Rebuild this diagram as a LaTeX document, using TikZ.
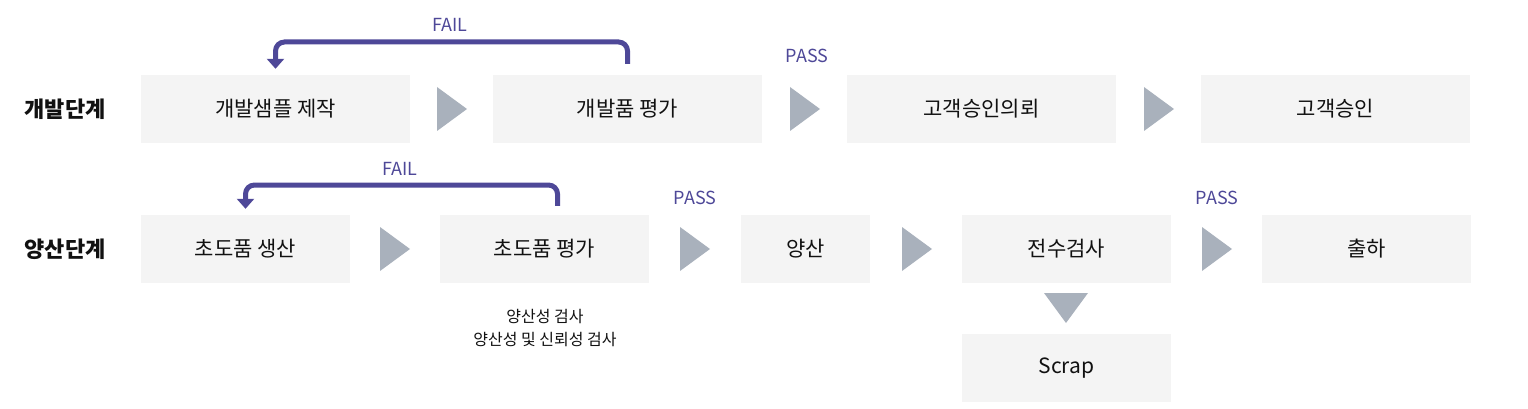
\documentclass[tikz,border=0pt]{standalone}
\usepackage{fontspec}
\setmainfont{Noto Sans CJK KR}
\usetikzlibrary{arrows.meta}
\definecolor{boxfill}{HTML}{F4F4F4}
\definecolor{trifill}{HTML}{A9B1BC}
\definecolor{purp}{HTML}{4E4898}
\definecolor{txt}{HTML}{111111}
\tikzset{
  stepbox/.style={fill=boxfill, inner sep=0pt, minimum height=68pt, font=\fontsize{21}{24}\selectfont, text=txt},
  widebox/.style={stepbox, minimum width=269pt},
  midbox/.style={stepbox, minimum width=209pt},
  smallbox/.style={stepbox, minimum width=129pt},
  stagelabel/.style={font=\fontsize{22}{24}\selectfont\bfseries, text=txt},
  passlabel/.style={font=\fontsize{18}{20}\selectfont, text=purp},
  subnote/.style={font=\fontsize{16}{18}\selectfont, text=txt},
  failarrow/.style={draw=purp, line width=5pt, rounded corners=9pt, -{Triangle[width=17pt,length=10pt]}, shorten >=6pt},
}
\newcommand{\rtri}[2]{\fill[trifill] (#1,#2-22) -- (#1+30,#2) -- (#1,#2+22) -- cycle;}
\begin{document}
\begin{tikzpicture}[x=1pt,y=-1pt]
\useasboundingbox (0,0) rectangle (1528,409);
% row 1
\node[stagelabel] (l1) at (65,109) {개발단계};
\node[widebox] (b1) at (275.5,109) {개발샘플 제작};
\node[widebox] (b2) at (627.5,109) {개발품 평가};
\node[widebox] (b3) at (981.5,109) {고객승인의뢰};
\node[widebox] (b4) at (1335.5,109) {고객승인};
\rtri{437}{109}
\rtri{790}{109}
\rtri{1144}{109}
\draw[failarrow] ([yshift=11pt]b2.north) -- (b2.north |- 0,42) -| (b1.north);
\node[passlabel] (f1) at (450,25) {FAIL};
\node[passlabel] (p1) at (807,56) {PASS};
% row 2
\node[stagelabel] (l2) at (65,249) {양산단계};
\node[midbox] (c1) at (245.5,249) {초도품 생산};
\node[midbox] (c2) at (544.5,249) {초도품 평가};
\node[smallbox] (c3) at (805.5,249) {양산};
\node[midbox] (c4) at (1066.5,249) {전수검사};
\node[midbox] (c5) at (1366.5,249) {출하};
\node[midbox] (c6) at (1066.5,368) {Scrap};
\rtri{380}{249}
\rtri{680}{249}
\rtri{902}{249}
\rtri{1202}{249}
\fill[trifill] (1044,293) -- (1088,293) -- (1066,323) -- cycle;
\draw[failarrow] ([xshift=13pt,yshift=9pt]c2.north) -- ([xshift=13pt]c2.north |- 0,185) -| (c1.north);
\node[passlabel] (f2) at (400,169) {FAIL};
\node[passlabel] (p2) at (695,198) {PASS};
\node[passlabel] (p3) at (1217,198) {PASS};
\node[subnote] (n1) at (545,317) {양산성 검사};
\node[subnote] (n2) at (545,340) {양산성 및 신뢰성 검사};
\end{tikzpicture}
\end{document}
